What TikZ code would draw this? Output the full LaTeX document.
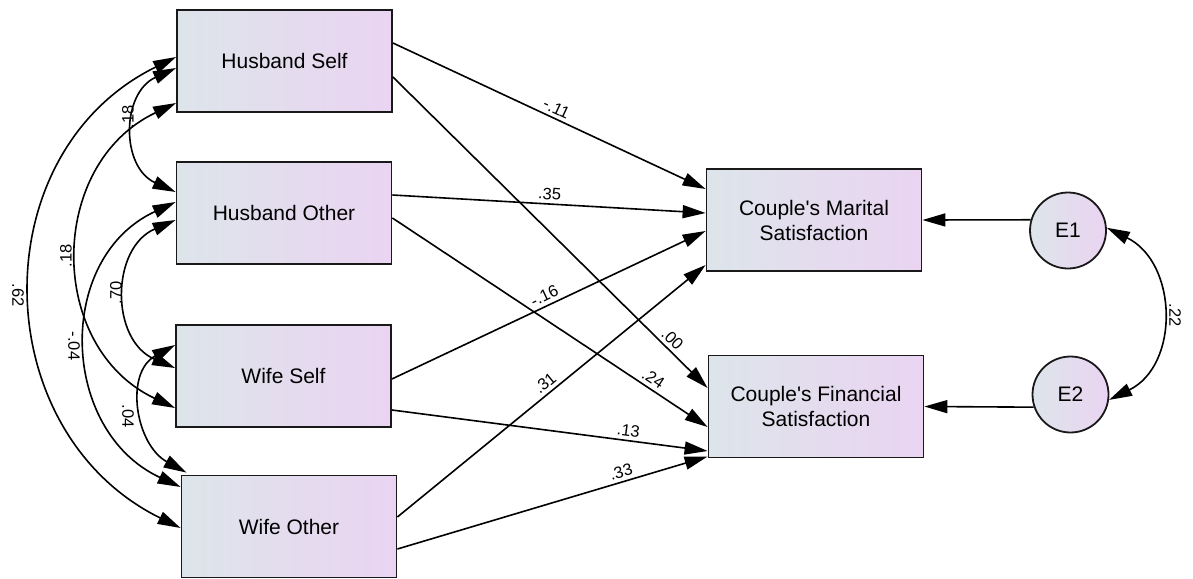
\documentclass[tikz,border=0pt]{standalone}
\usepackage{fontspec}
\setmainfont{Liberation Sans}[Ligatures=TeXOff]
\usetikzlibrary{arrows.meta}
\definecolor{gl}{HTML}{DDE5EA}
\definecolor{gr}{HTML}{EAD4F2}
\begin{document}
\begin{tikzpicture}[x=1pt,y=-1pt,
  box/.style={draw=black!90, line width=1.8pt, left color=gl, right color=gr, minimum width=215pt, minimum height=102pt, inner sep=0pt, align=center, font=\fontsize{21}{25}\selectfont},
  err/.style={circle, draw=black!90, line width=1.8pt, left color=gl, right color=gr, minimum size=76pt, inner sep=0pt, font=\fontsize{21}{25}\selectfont},
  reg/.style={line width=1.6pt, -{Triangle[length=23pt,width=13pt]}},
  cov/.style={line width=1.6pt, {Triangle[length=23pt,width=13pt]}-{Triangle[length=23pt,width=13pt]}},
  lab/.style={font=\fontsize{16.5}{19}\selectfont, inner sep=3.5pt},
  slab/.style={lab, sloped, above}
]
\useasboundingbox (0,0) rectangle (1193,578);

\node[box] (HS) at (284.5,61) {Husband Self};
\node[box] (HO) at (284,213) {Husband Other};
\node[box] (WS) at (283.5,376) {Wife Self};
\node[box] (WO) at (289,526.5) {Wife Other};
\node[box] (MS) at (814,220) {Couple's Marital\\Satisfaction};
\node[box] (FS) at (816,406.5) {Couple's Financial\\Satisfaction};
\node[err] (E1) at (1068,230.5) {E1};
\node[err] (E2) at (1070.5,394.5) {E2};

% regressions
\draw[reg] ([yshift=18pt]HS.east) -- node[slab,pos=.51] (l1) {-.11} ([yshift=31pt]MS.west);
\draw[reg] ([yshift=-16pt]HS.east) -- node[slab,pos=.866] (l2) {.00} ([yshift=18.5pt]FS.west);
\draw[reg] ([yshift=18pt]HO.east) -- node[slab,pos=.5] (l3) {.35} ([yshift=7pt]MS.west);
\draw[reg] ([yshift=-5pt]HO.east) -- node[slab,pos=.81] (l4) {.24} ([yshift=-20.5pt]FS.west);
\draw[reg] ([yshift=-3pt]WS.east) -- node[slab,pos=.5] (l5) {-.16} ([yshift=-11pt]MS.west);
\draw[reg] ([yshift=-34pt]WS.east) -- node[slab,pos=.745] (l6) {.13} ([yshift=-44.5pt]FS.west);
\draw[reg] ([yshift=9.5pt]WO.east) -- node[slab,pos=.5] (l7) {.31} ([yshift=-45pt]MS.west);
\draw[reg] ([yshift=-22.5pt]WO.east) -- node[slab,pos=.73] (l8) {.33} ([yshift=-50pt]FS.west);

\draw[reg] (E1.164) -- (MS.east);
\draw[reg] (E2.199) -- (FS.east);

% covariances
\draw[cov] ([yshift=4pt]HS.west) .. controls +(-195,96) and +(-195,-96) .. ([yshift=-1.5pt]WO.west);
\draw[cov] ([yshift=-7pt]HS.west) .. controls +(-55,25) and +(-55,-25) .. ([yshift=21pt]HO.west);
\draw[cov] ([yshift=-42pt]HS.west) .. controls +(-129,61) and +(-129,-61) .. ([yshift=-32pt]WS.west);
\draw[cov] ([yshift=11pt]HO.west) .. controls +(-121,56) and +(-121,-56) .. ([yshift=39.5pt]WO.west);
\draw[cov] ([yshift=-7pt]HO.west) .. controls +(-65,28) and +(-65,-28) .. ([yshift=8pt]WS.west);
\draw[cov] ([yshift=31pt]WS.west) .. controls +(-51,28) and +(-51,-28) .. ([xshift=6pt,yshift=2pt]WO.north west);
\draw[cov] (E1.4) .. controls +(71,35) and +(71,-35) .. (E2.-8);

\node[lab,rotate=-90] (c62) at (18,295) {.62};
\node[lab,rotate=90] (c18a) at (128,117) {.18};
\node[lab,rotate=90] (c18b) at (66,256) {.18};
\node[lab,rotate=90] (c70) at (116,293) {.70};
\node[lab,rotate=-90] (cm04) at (74,346) {-.04};
\node[lab,rotate=-90] (c04) at (128,416) {.04};
\node[lab,rotate=-90] (c22) at (1175,315) {.22};
\end{tikzpicture}
\end{document}
